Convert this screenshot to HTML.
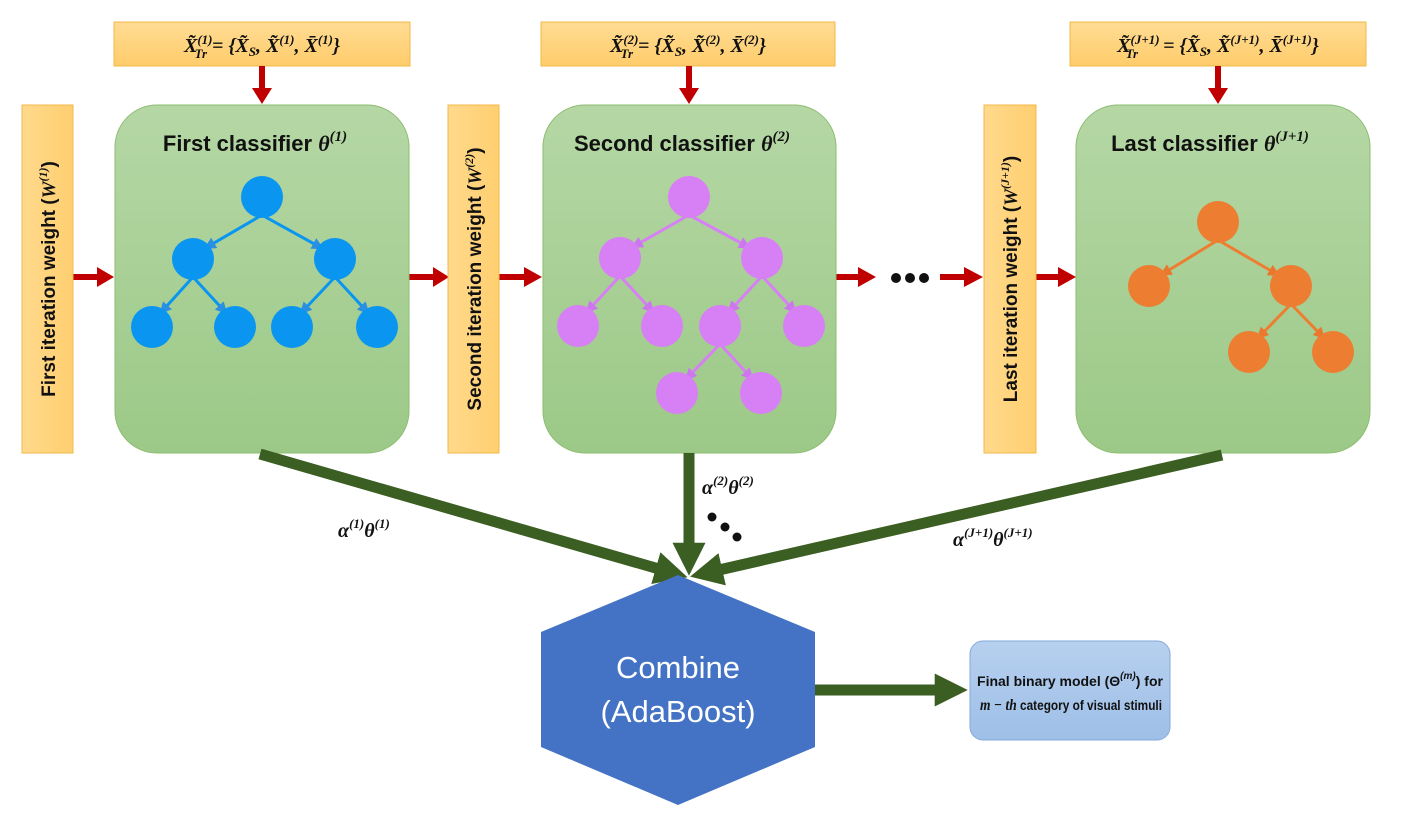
<!DOCTYPE html>
<html><head><meta charset="utf-8"><style>
body{margin:0;background:#fff;width:1405px;height:830px;overflow:hidden;font-family:"Liberation Sans",sans-serif}
svg{display:block}
.t{font-family:"Liberation Sans",sans-serif;font-weight:bold;fill:#111}
.m{font-family:"Liberation Serif",serif;font-style:italic;font-weight:bold;fill:#111}
</style></head><body>
<svg width="1405" height="830" viewBox="0 0 1405 830">
<defs>
<linearGradient id="gg" x1="0" y1="0" x2="0" y2="1"><stop offset="0" stop-color="#b5d7a5"/><stop offset="1" stop-color="#9cc987"/></linearGradient>
<linearGradient id="yg" x1="0" y1="0" x2="1" y2="0"><stop offset="0" stop-color="#ffd98c"/><stop offset="1" stop-color="#ffcf70"/></linearGradient>
<linearGradient id="yv" x1="0" y1="0" x2="0" y2="1"><stop offset="0" stop-color="#ffdc94"/><stop offset="1" stop-color="#ffcc6a"/></linearGradient>
<linearGradient id="bg" x1="0" y1="0" x2="0" y2="1"><stop offset="0" stop-color="#b7d0ef"/><stop offset="1" stop-color="#9ebfe7"/></linearGradient>
<marker id="ab1" viewBox="0 0 10 10" refX="9" refY="5" markerWidth="4" markerHeight="4" orient="auto"><path d="M0,0L10,5L0,10z" fill="#2c8fe0"/></marker>
<marker id="ab2" viewBox="0 0 10 10" refX="9" refY="5" markerWidth="4" markerHeight="4" orient="auto"><path d="M0,0L10,5L0,10z" fill="#cc77ee"/></marker>
<marker id="ab3" viewBox="0 0 10 10" refX="9" refY="5" markerWidth="4" markerHeight="4" orient="auto"><path d="M0,0L10,5L0,10z" fill="#e9782e"/></marker>
<marker id="gh" viewBox="0 0 10 10" refX="1" refY="5" markerWidth="3" markerHeight="3.3" orient="auto"><path d="M0,0L10,5L0,10z" fill="#3b5e22"/></marker>
</defs>

<!-- formula boxes -->
<g><rect x="114" y="22" width="296" height="44" fill="url(#yv)" stroke="#f2b84a"/>
<text class="m" x="262" y="52" font-size="20" text-anchor="middle">X̃<tspan font-size="13" dy="-8">(1)</tspan><tspan font-size="13" dx="-18" dy="14">Tr</tspan><tspan dy="-6"> = {X̃</tspan><tspan font-size="13" dy="4">S</tspan><tspan dy="-4">, X̃</tspan><tspan font-size="13" dy="-8">(1)</tspan><tspan dy="8">, X̄</tspan><tspan font-size="13" dy="-8">(1)</tspan><tspan dy="8">}</tspan></text></g>
<g><rect x="541" y="22" width="294" height="44" fill="url(#yv)" stroke="#f2b84a"/>
<text class="m" x="688" y="52" font-size="20" text-anchor="middle">X̃<tspan font-size="13" dy="-8">(2)</tspan><tspan font-size="13" dx="-18" dy="14">Tr</tspan><tspan dy="-6"> = {X̃</tspan><tspan font-size="13" dy="4">S</tspan><tspan dy="-4">, X̃</tspan><tspan font-size="13" dy="-8">(2)</tspan><tspan dy="8">, X̄</tspan><tspan font-size="13" dy="-8">(2)</tspan><tspan dy="8">}</tspan></text></g>
<g><rect x="1070" y="22" width="296" height="44" fill="url(#yv)" stroke="#f2b84a"/>
<text class="m" x="1218" y="52" font-size="20" text-anchor="middle">X̃<tspan font-size="13" dy="-8">(J+1)</tspan><tspan font-size="13" dx="-34" dy="14">Tr</tspan><tspan dy="-6" dx="20"> = {X̃</tspan><tspan font-size="13" dy="4">S</tspan><tspan dy="-4">, X̃</tspan><tspan font-size="13" dy="-8">(J+1)</tspan><tspan dy="8">, X̄</tspan><tspan font-size="13" dy="-8">(J+1)</tspan><tspan dy="8">}</tspan></text></g>

<!-- red arrows -->
<g fill="#c00000">
<rect x="259" y="66" width="6" height="24"/><path d="M252,88H272L262,104z"/>
<rect x="686" y="66" width="6" height="24"/><path d="M679,88H699L689,104z"/>
<rect x="1215" y="66" width="6" height="24"/><path d="M1208,88H1228L1218,104z"/>
<rect x="73" y="274" width="26" height="6"/><path d="M97,267V287L114,277z"/>
<rect x="409" y="274" width="26" height="6"/><path d="M433,267V287L449,277z"/>
<rect x="499" y="274" width="27" height="6"/><path d="M524,267V287L542,277z"/>
<rect x="836" y="274" width="24" height="6"/><path d="M858,267V287L876,277z"/>
<rect x="940" y="274" width="26" height="6"/><path d="M964,267V287L983,277z"/>
<rect x="1036" y="274" width="24" height="6"/><path d="M1058,267V287L1076,277z"/>
</g>
<g fill="#111"><circle cx="896" cy="278" r="5"/><circle cx="910" cy="278" r="5"/><circle cx="924" cy="278" r="5"/></g>

<!-- weight bars -->
<g><rect x="22" y="105" width="51" height="348" fill="url(#yg)" stroke="#f2b84a"/>
<text class="t" font-size="19" transform="translate(55,279) rotate(-90)" text-anchor="middle">First iteration weight (<tspan class="m">W</tspan><tspan class="m" font-size="12" dy="-8">(1)</tspan><tspan dy="8">)</tspan></text></g>
<g><rect x="448" y="105" width="51" height="348" fill="url(#yg)" stroke="#f2b84a"/>
<text class="t" font-size="19" transform="translate(481,279) rotate(-90)" text-anchor="middle">Second iteration weight (<tspan class="m">W</tspan><tspan class="m" font-size="12" dy="-8">(2)</tspan><tspan dy="8">)</tspan></text></g>
<g><rect x="984" y="105" width="52" height="348" fill="url(#yg)" stroke="#f2b84a"/>
<text class="t" font-size="19" transform="translate(1017,279) rotate(-90)" text-anchor="middle">Last iteration weight (<tspan class="m">W</tspan><tspan class="m" font-size="12" dy="-8">(J+1)</tspan><tspan dy="8">)</tspan></text></g>

<!-- classifier boxes -->
<g><rect x="115" y="105" width="294" height="348" rx="42" fill="url(#gg)" stroke="#8dbd70"/>
<text class="t" font-size="22" x="255" y="151" text-anchor="middle">First classifier <tspan class="m">θ</tspan><tspan class="m" font-size="15" dy="-10">(1)</tspan></text></g>
<g><rect x="543" y="105" width="293" height="348" rx="42" fill="url(#gg)" stroke="#8dbd70"/>
<text class="t" font-size="22" x="682" y="151" text-anchor="middle">Second classifier <tspan class="m">θ</tspan><tspan class="m" font-size="15" dy="-10">(2)</tspan></text></g>
<g><rect x="1076" y="105" width="294" height="348" rx="42" fill="url(#gg)" stroke="#8dbd70"/>
<text class="t" font-size="22" x="1210" y="151" text-anchor="middle">Last classifier <tspan class="m">θ</tspan><tspan class="m" font-size="15" dy="-10">(J+1)</tspan></text></g>

<g id="trees"></g>

<!-- dark green arrows -->
<g stroke="#3b5e22" stroke-width="11" fill="none">
<line x1="260" y1="454" x2="659" y2="569" marker-end="url(#gh)"/>
<line x1="689" y1="453" x2="689" y2="546" marker-end="url(#gh)"/>
<line x1="1222" y1="455" x2="719" y2="570" marker-end="url(#gh)"/>
<line x1="815" y1="690" x2="938" y2="690" marker-end="url(#gh)"/>
</g>
<g fill="#111"><circle cx="712" cy="517" r="4.5"/><circle cx="725" cy="527" r="4.5"/><circle cx="737" cy="537" r="4.5"/></g>
<text class="m" font-size="20" x="338" y="537">α<tspan font-size="13" dy="-9">(1)</tspan><tspan dy="9">θ</tspan><tspan font-size="13" dy="-9">(1)</tspan></text>
<text class="m" font-size="20" x="702" y="494">α<tspan font-size="13" dy="-9">(2)</tspan><tspan dy="9">θ</tspan><tspan font-size="13" dy="-9">(2)</tspan></text>
<text class="m" font-size="20" x="953" y="546">α<tspan font-size="13" dy="-9">(J+1)</tspan><tspan dy="9">θ</tspan><tspan font-size="13" dy="-9">(J+1)</tspan></text>

<!-- hexagon -->
<g>
<path d="M678,575L815,632V747L678,805L541,747V632z" fill="#4472c4"/>
<text x="678" y="678" font-size="31" fill="#fff" text-anchor="middle" font-family="Liberation Sans,sans-serif">Combine</text>
<text x="678" y="722" font-size="31" fill="#fff" text-anchor="middle" font-family="Liberation Sans,sans-serif">(AdaBoost)</text>
</g>

<g>
<rect x="970" y="641" width="200" height="99" rx="13" fill="url(#bg)" stroke="#86aadb"/>
<text class="t" font-size="14" x="1070" y="686" text-anchor="middle">Final binary model (Θ<tspan font-size="10" dy="-7" font-style="italic">(m)</tspan><tspan dy="7">) for</tspan></text>
<text class="t" font-size="14" x="980" y="710" textLength="182" lengthAdjust="spacingAndGlyphs"><tspan class="m" font-size="16">m − th</tspan> category of visual stimuli</text>
</g>
</svg>
<script>
const t1Nodes=[[262,197],[193,259],[335,259],[152,327],[235,327],[292,327],[377,327]];
const t1Edges=[[0,1],[0,2],[1,3],[1,4],[2,5],[2,6]];
const t2Nodes=[[689,197],[620,258],[762,258],[578,326],[662,326],[720,326],[804,326],[677,393],[761,393]];
const t2Edges=[[0,1],[0,2],[1,3],[1,4],[2,5],[2,6],[5,7],[5,8]];
const t3Nodes=[[1218,222],[1149,286],[1291,286],[1249,352],[1333,352]];
const t3Edges=[[0,1],[0,2],[2,3],[2,4]];
const NS='http://www.w3.org/2000/svg';
const g=document.getElementById('trees');
function tree(nodes,edges,col,mk,name){
 const grp=document.createElementNS(NS,'g');
 
 
 edges.forEach(([a,b])=>{
  const [x1,y1]=nodes[a],[x2,y2]=nodes[b];
  const dx=x2-x1,dy=y2-y1,L=Math.hypot(dx,dy);
  const l=document.createElementNS(NS,'line');
  
  
  l.setAttribute('x1',x1);l.setAttribute('y1',y1+18);
  l.setAttribute('x2',x2-dx/L*16);l.setAttribute('y2',y2-dy/L*16);
  l.setAttribute('stroke',col);l.setAttribute('stroke-width','3');
  l.setAttribute('marker-end','url(#'+mk+')');
  grp.appendChild(l);
 });
 nodes.forEach(([x,y])=>{
  const c=document.createElementNS(NS,'circle');
  
  
  c.setAttribute('cx',x);c.setAttribute('cy',y);c.setAttribute('r',21);c.setAttribute('fill',col);
  grp.appendChild(c);
 });
 g.appendChild(grp);
}
tree(t1Nodes,t1Edges,'#0a96f0','ab1','tree-1');
tree(t2Nodes,t2Edges,'#d77ff5','ab2','tree-2');
tree(t3Nodes,t3Edges,'#ed7d31','ab3','tree-last');
</script>
</body></html>
